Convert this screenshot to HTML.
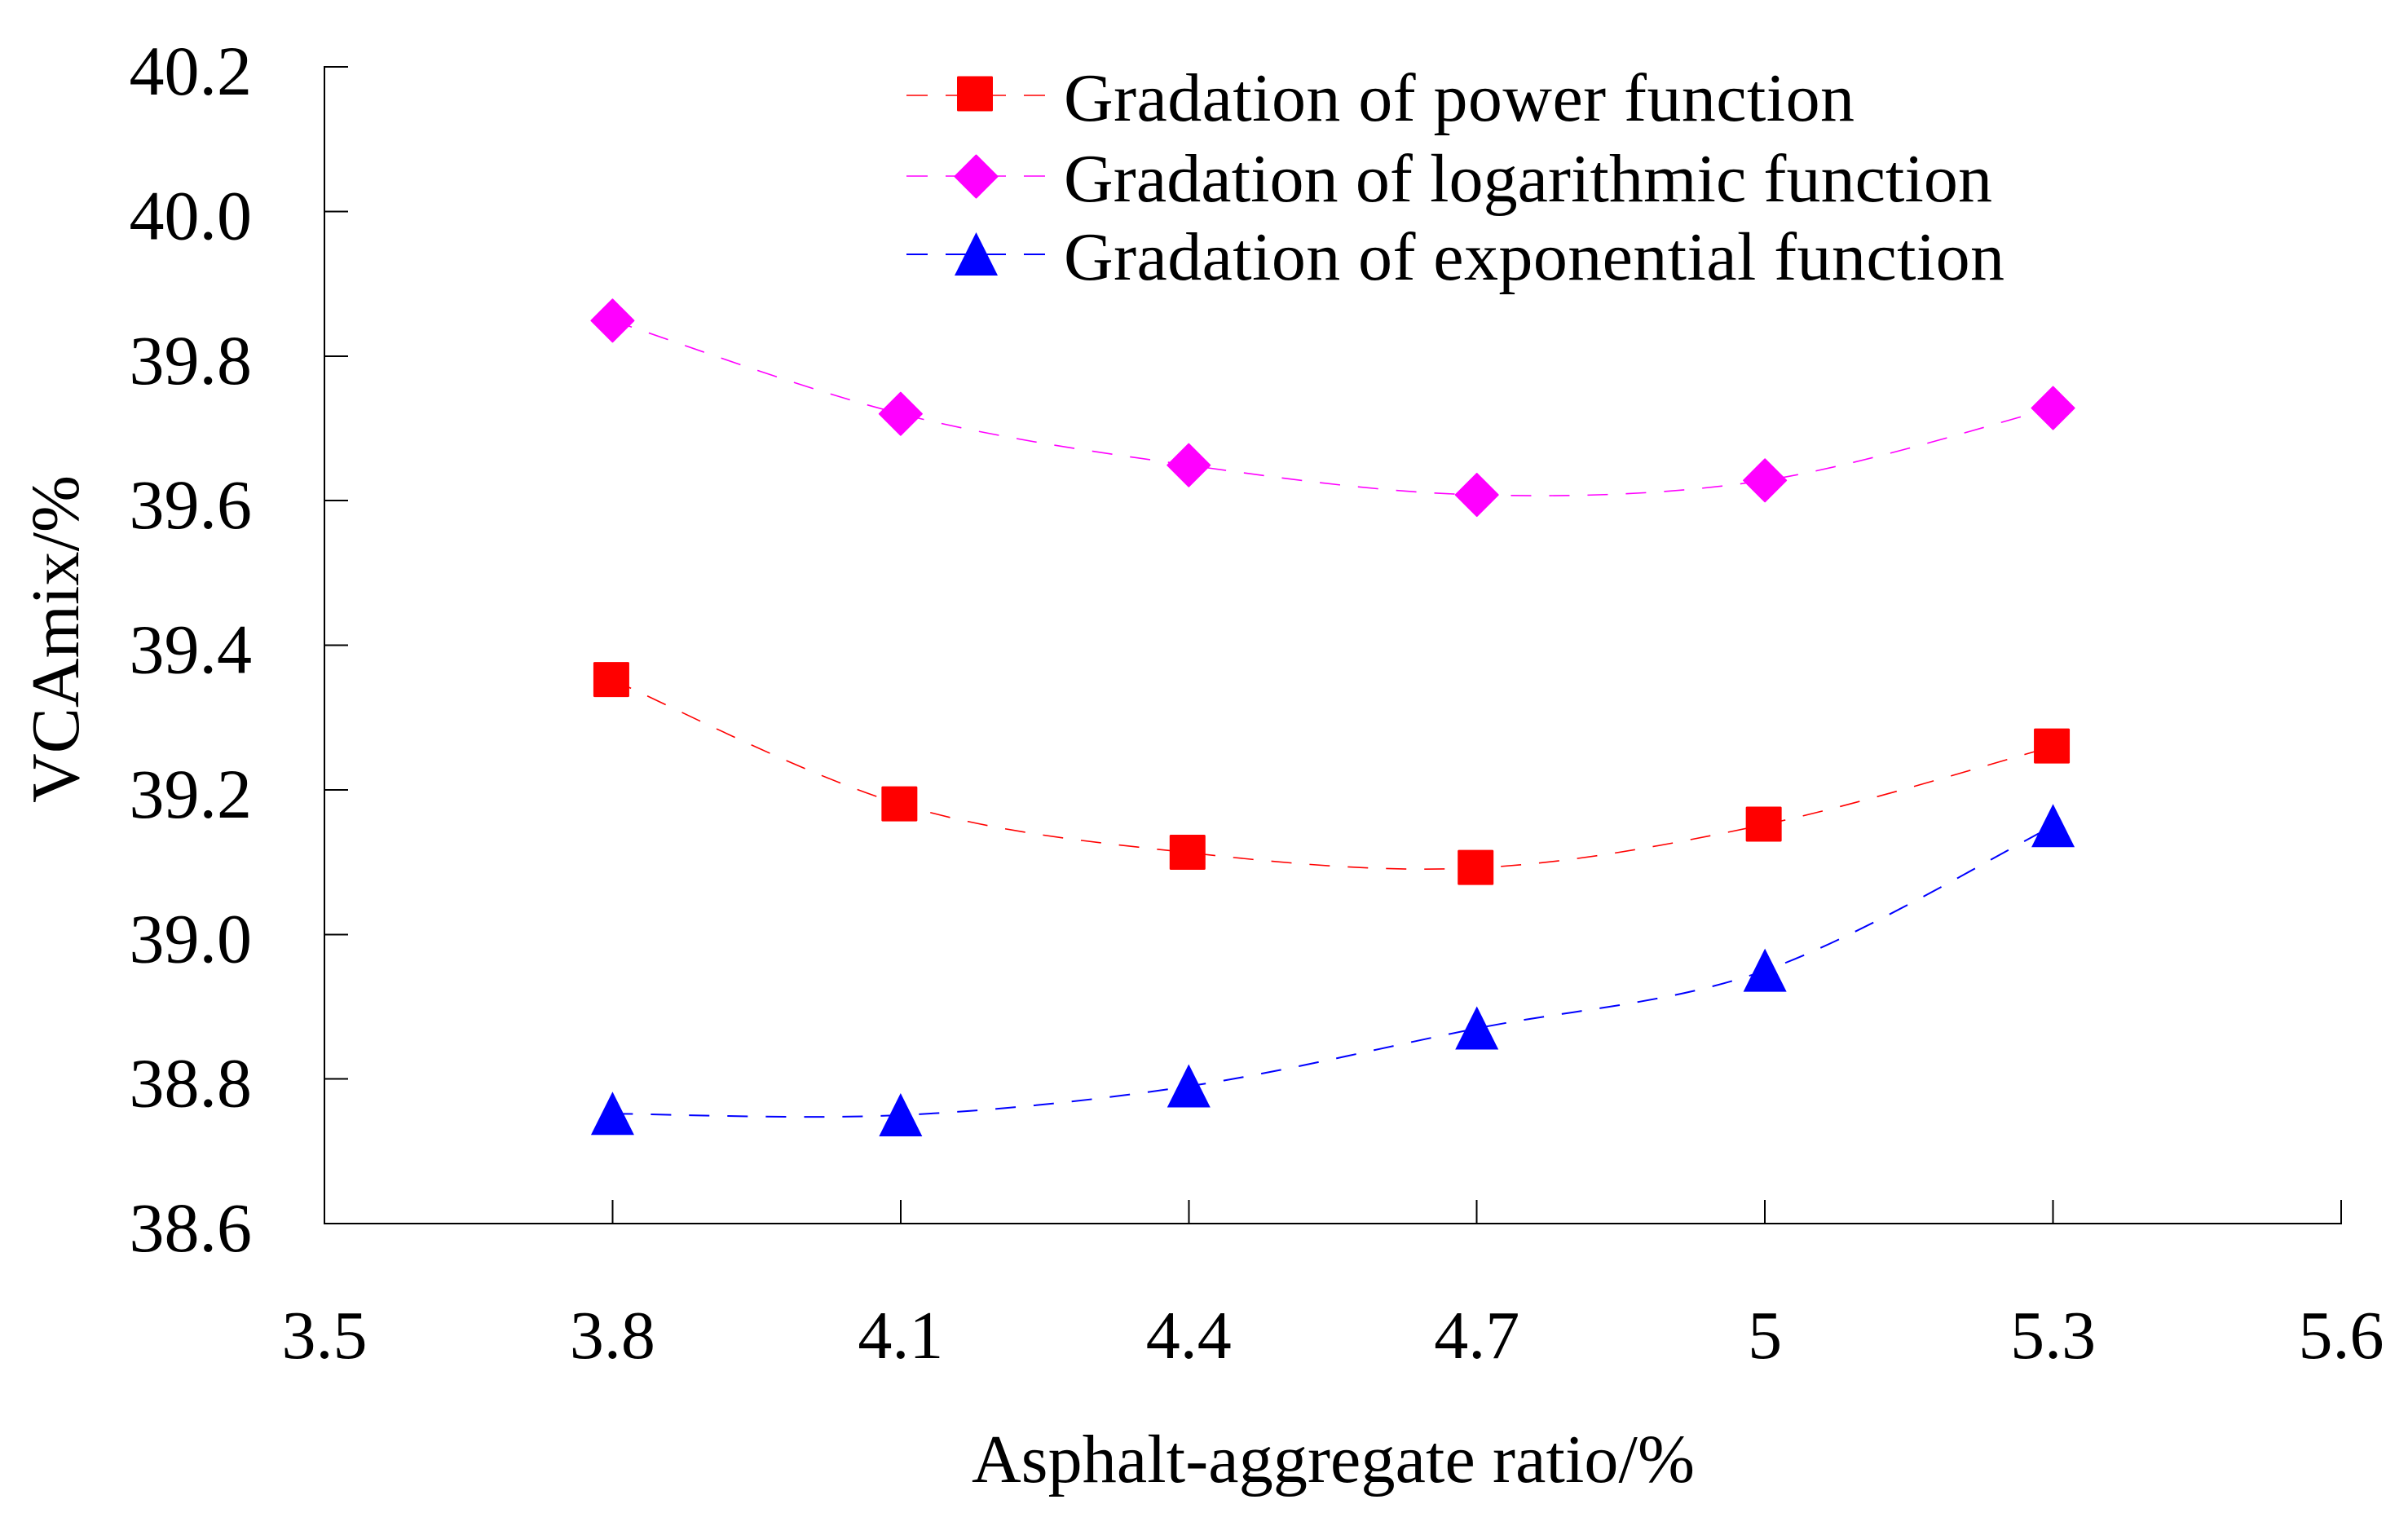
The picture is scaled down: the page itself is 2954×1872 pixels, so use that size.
<!DOCTYPE html>
<html lang="en">
<head>
<meta charset="utf-8">
<title>VCAmix vs Asphalt-aggregate ratio</title>
<style>
  html, body { margin: 0; padding: 0; background: #fff; }
  body { width: 2954px; height: 1872px; overflow: hidden; }
  svg { display: block; }
  text { font-family: "Liberation Serif", "Times New Roman", serif; fill: #000; font-size: 84px; }
</style>
</head>
<body>
<svg id="chart" xmlns="http://www.w3.org/2000/svg" width="2954" height="1872" viewBox="0 0 2954 1872">
  <rect x="0" y="0" width="2954" height="1872" fill="#ffffff"/>
  <text transform="translate(96 985) rotate(-90)" textLength="402">VCAmix/%</text>
  <text x="1192" y="1818" textLength="887">Asphalt-aggregate ratio/%</text>
  <g id="axes"></g>
  <g id="series"></g>
  <g id="legend"></g>
</svg>
<script>
const xValues = [3.8, 4.1, 4.4, 4.7, 5.0, 5.3];
const powerValues = [39.352, 39.18, 39.113, 39.092, 39.152, 39.26];
const logValues = [39.849, 39.72, 39.649, 39.608, 39.628, 39.728];
const expValues = [38.752, 38.75, 38.79, 38.87, 38.95, 39.15];
const xTickLabels = ['3.5', '3.8', '4.1', '4.4', '4.7', '5', '5.3', '5.6'];
const yTickLabels = ['40.2', '40.0', '39.8', '39.6', '39.4', '39.2', '39.0', '38.8', '38.6'];
const seriesNames = ['Gradation of power function', 'Gradation of logarithmic function', 'Gradation of exponential function'];

const NS = 'http://www.w3.org/2000/svg';
const plot = { left: 398, right: 2872, top: 82, bottom: 1501 };
const xMin = 3.5, xMax = 5.6, yMin = 38.6, yMax = 40.2;
const xScale = v => plot.left + (v - xMin) / (xMax - xMin) * (plot.right - plot.left);
const yScale = v => plot.bottom - (v - yMin) / (yMax - yMin) * (plot.bottom - plot.top);

function make(tag, attrs, parent) {
  const el = document.createElementNS(NS, tag);
  for (const k in attrs) el.setAttribute(k, attrs[k]);
  parent.appendChild(el);
  return el;
}

const axes = document.getElementById('axes');
const seriesGroup = document.getElementById('series');
const legend = document.getElementById('legend');

const yAxisLine = make('line', { x1: plot.left, y1: plot.top - 1, x2: plot.left, y2: plot.bottom + 1, stroke: '#000', 'stroke-width': 2, 'shape-rendering': 'crispEdges' }, axes);


const xAxisLine = make('line', { x1: plot.left - 1, y1: plot.bottom, x2: plot.right + 1, y2: plot.bottom, stroke: '#000', 'stroke-width': 2, 'shape-rendering': 'crispEdges' }, axes);



yTickLabels.forEach(function (label) {
  const y = yScale(parseFloat(label));
  const tick = make('line', { x1: plot.left, y1: y, x2: plot.left + 29, y2: y, stroke: '#000', 'stroke-width': 2, 'shape-rendering': 'crispEdges' }, axes);
  
  
  const text = make('text', { x: 309, y: y + 34, 'text-anchor': 'end', 'font-size': 86, style: 'font-size:86px' }, axes);
  
  
  text.textContent = label;
});

xTickLabels.forEach(function (label) {
  const x = xScale(parseFloat(label));
  const tick = make('line', { x1: x, y1: plot.bottom - 29, x2: x, y2: plot.bottom, stroke: '#000', 'stroke-width': 2, 'shape-rendering': 'crispEdges' }, axes);
  
  
  const text = make('text', { x: x, y: 1666, 'text-anchor': 'middle' }, axes);
  
  
  text.textContent = label;
});

function smoothPath(pts) {
  let d = 'M' + pts[0][0] + ' ' + pts[0][1];
  for (let i = 0; i < pts.length - 1; i++) {
    const p0 = pts[Math.max(i - 1, 0)];
    const p1 = pts[i];
    const p2 = pts[i + 1];
    const p3 = pts[Math.min(i + 2, pts.length - 1)];
    const c1x = p1[0] + (p2[0] - p0[0]) / 6, c1y = p1[1] + (p2[1] - p0[1]) / 6;
    const c2x = p2[0] - (p3[0] - p1[0]) / 6, c2y = p2[1] - (p3[1] - p1[1]) / 6;
    d += ' C' + c1x + ' ' + c1y + ' ' + c2x + ' ' + c2y + ' ' + p2[0] + ' ' + p2[1];
  }
  return d;
}

function drawMarker(kind, cx, cy, color, parent) {
  if (kind === 'square') {
    return make('rect', { x: cx - 23.5, y: cy - 22, width: 44, height: 43, rx: 1.5, fill: color }, parent);
  }
  if (kind === 'diamond') {
    const r = 26;
    return make('polygon', { points: (cx) + ',' + (cy - r) + ' ' + (cx + r) + ',' + cy + ' ' + cx + ',' + (cy + r) + ' ' + (cx - r) + ',' + cy, fill: color, stroke: color, 'stroke-width': 2, 'stroke-linejoin': 'round' }, parent);
  }
  return make('polygon', { points: cx + ',' + (cy - 27) + ' ' + (cx + 26.5) + ',' + (cy + 26) + ' ' + (cx - 26.5) + ',' + (cy + 26), fill: color }, parent);
}

function drawSeries(values, color, width, kind, name) {
  const g = make('g', {}, seriesGroup);
  
  
  const pts = values.map((v, i) => [xScale(xValues[i]), yScale(v)]);
  const path = make('path', { d: smoothPath(pts), fill: 'none', stroke: color, 'stroke-width': width, 'stroke-dasharray': '25 22' }, g);
  
  
  pts.forEach(function (p) {
    const marker = drawMarker(kind, p[0], p[1], color, g);
    
    
  });
}

drawSeries(powerValues, '#ff0000', 1.6, 'square', 'power');
drawSeries(logValues, '#ff00ff', 1.6, 'diamond', 'logarithmic');
drawSeries(expValues, '#0000ff', 2, 'triangle', 'exponential');

function drawLegendEntry(label, color, width, kind, lineY, markerX, markerY, baseline, textWidth) {
  const g = make('g', {}, legend);
  
  
  const line = make('line', { x1: 1112, y1: lineY, x2: 1282, y2: lineY, stroke: color, 'stroke-width': width, 'stroke-dasharray': '26 22 74 22 26' }, g);
  
  
  const marker = drawMarker(kind, markerX, markerY, color, g);
  
  
  const text = make('text', { x: 1305, y: baseline, textLength: textWidth }, g);
  
  
  text.textContent = label;
}

drawLegendEntry(seriesNames[0], '#ff0000', 1.6, 'square', 117, 1197.5, 115.5, 148, 970);
drawLegendEntry(seriesNames[1], '#ff00ff', 1.6, 'diamond', 216, 1197.5, 216.5, 247, 1139);
drawLegendEntry(seriesNames[2], '#0000ff', 2, 'triangle', 312, 1197.5, 312, 343, 1154);
</script>
</body>
</html>
